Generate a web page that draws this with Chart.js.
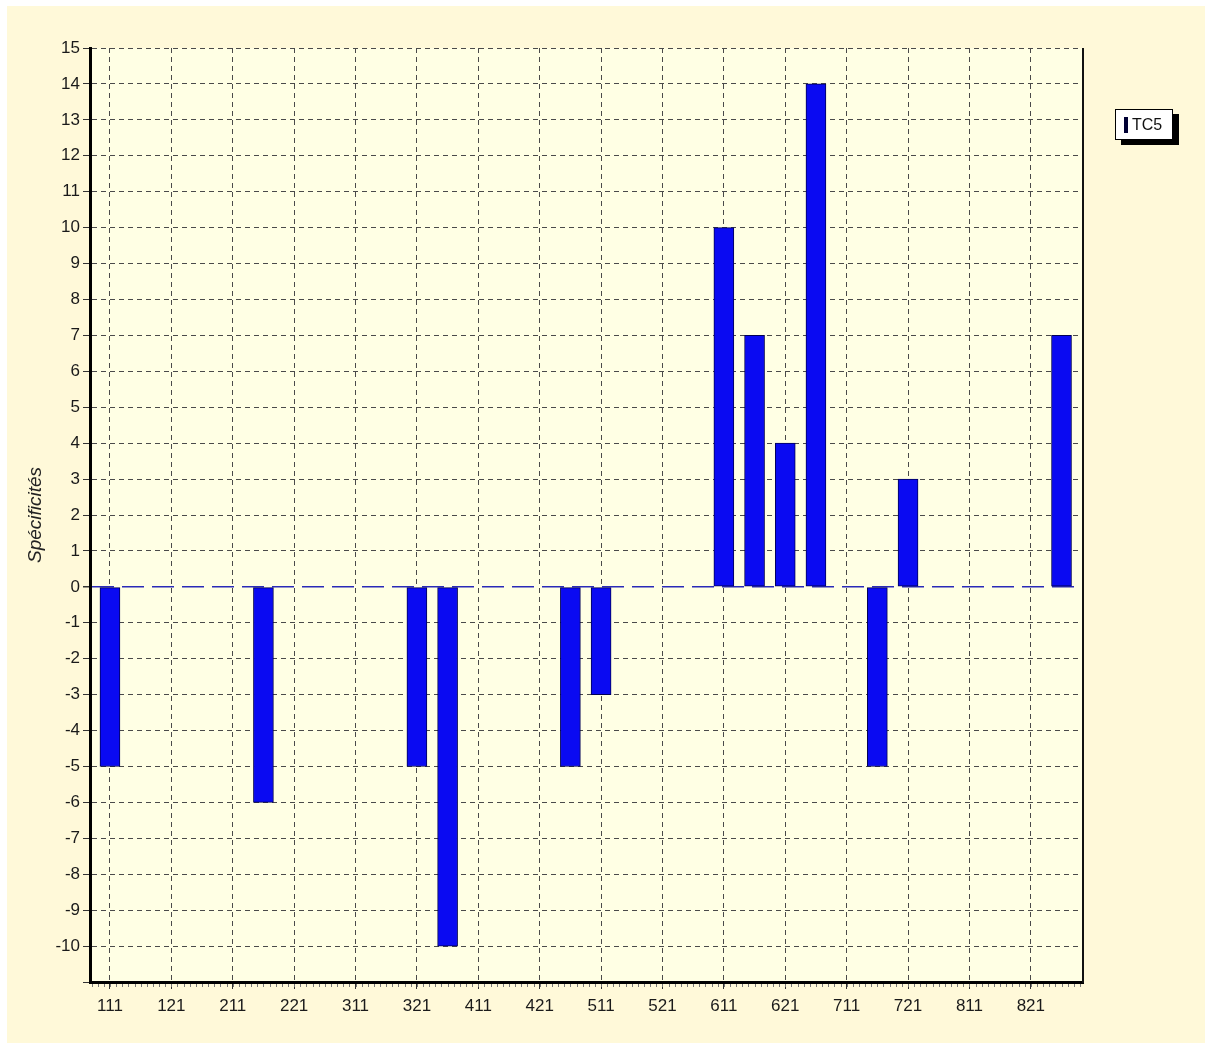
<!DOCTYPE html>
<html>
<head>
<meta charset="utf-8">
<script src="https://cdn.jsdelivr.net/npm/chart.js@4"></script>
<style>
    html, body { margin: 0; padding: 0; background: #ffffff; }
    #wrap { position: relative; width: 1212px; height: 1050px; }
    #legend {
        position: absolute; left: 1115px; top: 109px; width: 58px; height: 31px;
        background: #ffffff; border: 1px solid #000; box-shadow: 6px 5px 0 #000;
        font: 16px "Liberation Sans", Arial, sans-serif; color: #111;
        display: flex; align-items: center; box-sizing: border-box; padding-left: 8px;
    }
    #legend .sw { display: inline-block; width: 4px; height: 16px; background: #000033; margin-right: 4px; }
</style>
</head>
<body>
<div id="wrap">
    <canvas id="chart" width="1212" height="1050"></canvas>
    <div id="legend"><span class="sw"></span>TC5</div>
</div>
<script>
// categories (codes) and specificity values
const categories = ['111', '112', '121', '122', '211', '212', '221', '222',
    '311', '312', '321', '322', '411', '412', '421', '422',
    '511', '512', '521', '522', '611', '612', '621', '622',
    '711', '712', '721', '722', '811', '812', '821', '822'];
const tc5Values = [-5, 0, 0, 0, 0, -6, 0, 0,
    0, 0, -5, -10, 0, 0, 0, -5,
    -3, 0, 0, 0, 10, 7, 4, 14,
    0, -5, 3, 0, 0, 0, 0, 7];
const yTicks = [-11, -10, -9, -8, -7, -6, -5, -4, -3, -2, -1, 0, 1, 2, 3, 4, 5, 6, 7, 8, 9, 10, 11, 12, 13, 14, 15];

const FONT = '"Liberation Sans", Arial, sans-serif';

const backdrop = {
    id: 'backdrop',
    beforeDraw(chart) {
        const { ctx, chartArea: a } = chart;
        ctx.save();
        ctx.fillStyle = '#ffffff';
        ctx.fillRect(0, 0, chart.width, chart.height);
        ctx.fillStyle = '#fff9d9';
        ctx.fillRect(7, 6, 1198, 1037);
        ctx.fillStyle = '#ffffe4';
        ctx.fillRect(a.left, a.top, a.right - a.left, a.bottom - a.top);
        ctx.restore();
    },
    afterDraw(chart) {
        const { ctx, chartArea: a } = chart;
        const x = chart.scales.x;
        ctx.save();
        // right frame
        ctx.strokeStyle = '#111';
        ctx.lineWidth = 2;
        ctx.beginPath();
        ctx.moveTo(a.right, a.top);
        ctx.lineTo(a.right, a.bottom + 1);
        ctx.stroke();
        // minor ticks under the x axis
        ctx.strokeStyle = '#777';
        ctx.lineWidth = 1;
        ctx.beginPath();
        for (let v = -0.6; v < x.max; v += 0.2) {
            const px = Math.round(x.getPixelForValue(v)) + 0.5;
            ctx.moveTo(px, a.bottom + 2);
            ctx.lineTo(px, a.bottom + 5);
        }
        ctx.stroke();
        ctx.restore();
    }
};

new Chart(document.getElementById('chart'), {
    type: 'bar',
    data: {
        datasets: [{
            label: 'TC5',
            data: tc5Values.map((v, i) => ({ x: i, y: v === 0 ? null : v })),
            backgroundColor: '#0a0af2',
            borderColor: '#000055',
            borderWidth: 1,
            borderSkipped: false,
            barThickness: 20
        }]
    },
    options: {
        responsive: false,
        animation: false,
        layout: { padding: { left: 0, top: 48, right: 129, bottom: 0 } },
        plugins: { legend: { display: false }, tooltip: { enabled: false } },
        scales: {
            x: {
                type: 'linear',
                offset: false,
                min: -0.65,
                max: 31.7,
                afterFit: s => { s.height = 68; },
                afterBuildTicks: s => {
                    s.ticks = categories.map((c, i) => ({ value: i })).filter(t => t.value % 2 === 0);
                },
                ticks: {
                    callback: v => categories[v],
                    color: '#1a1a1a',
                    font: { family: FONT, size: 17 },
                    padding: 7,
                    maxRotation: 0,
                    autoSkip: false
                },
                grid: { offset: false, color: '#4a4a4a', lineWidth: 1, tickLength: 7, tickColor: '#333' },
                border: { color: '#000', width: 3, dash: [5, 4] }
            },
            y: {
                min: -11,
                max: 15,
                afterFit: s => { s.width = 90; },
                afterBuildTicks: s => { s.ticks = yTicks.map(v => ({ value: v })); },
                ticks: {
                    callback: v => (v === -11 ? '' : v),
                    color: '#1a1a1a',
                    font: { family: FONT, size: 17 },
                    padding: 3
                },
                title: {
                    display: true,
                    text: 'Spécificités',
                    color: '#222',
                    font: { family: FONT, size: 19, style: 'italic' },
                    padding: { top: 24, bottom: 0 }
                },
                grid: {
                    color: c => (c.tick && c.tick.value === 0 ? '#2a2ab8' : (c.tick && c.tick.value === -11 ? 'rgba(0,0,0,0)' : '#4a4a4a')),
                    lineWidth: c => (c.tick && c.tick.value === 0 ? 1.5 : 1),
                    tickLength: 7,
                    tickColor: '#333'
                },
                border: {
                    color: '#000',
                    width: 3,
                    dash: c => (c.tick && c.tick.value === 0 ? [22, 8] : [5, 4])
                }
            }
        }
    },
    plugins: [backdrop]
});
</script>
</body>
</html>
